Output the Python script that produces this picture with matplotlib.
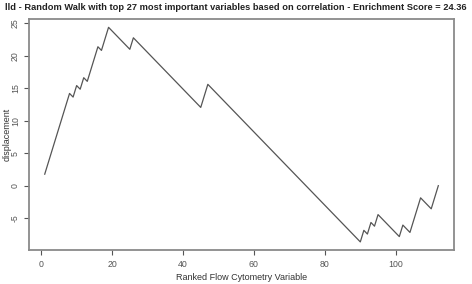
import matplotlib
matplotlib.use("Agg")
import matplotlib.pyplot as plt

# turning points of the random walk
rank = [1, 8, 9, 10, 11, 12, 13, 16, 17, 19, 25, 26, 45, 47, 90, 91, 92,
        93, 94, 95, 101, 102, 104, 107, 110, 112]
displacement = [1.77, 14.19, 13.63, 15.40, 14.84, 16.61, 16.05, 21.37, 20.81,
                24.36, 20.98, 22.75, 12.04, 15.59, -8.65, -6.87, -7.44, -5.66,
                -6.23, -4.45, -7.83, -6.06, -7.19, -1.87, -3.56, 0.0]
x_ticks = [0, 20, 40, 60, 80, 100]
y_ticks = [-5, 0, 5, 10, 15, 20, 25]
title = ("lld - Random Walk with top 27 most important variables based on "
         "correlation - Enrichment Score = 24.36")

plt.rcParams["font.family"] = ["Liberation Sans", "DejaVu Sans"]

fig = plt.figure(figsize=(4.72, 2.84), dpi=100)
ax = fig.add_axes([0.0614, 0.118, 0.9006, 0.816])

ax.plot(rank, displacement, color="#555555", lw=0.9)

ax.set_xlim(-3.44, 116.44)
ax.set_ylim(-9.97, 25.68)
ax.set_xticks(x_ticks)
ax.set_yticks(y_ticks)
ax.set_yticklabels([str(v) for v in y_ticks], rotation=90, va="center")
ax.tick_params(labelsize=6.3, colors="#555555", length=3.5, width=0.8, pad=3)

for s in ax.spines.values():
    s.set_color("#8a8a8a")
    s.set_linewidth(1.3)

ax.set_xlabel("Ranked Flow Cytometry Variable", fontsize=6.5,
              color="#333333", labelpad=3)
ax.set_ylabel("displacement", fontsize=6.5, color="#333333")
ax.yaxis.set_label_coords(-0.042, 0.5)

fig.text(0.5, 0.972, title, ha="center", va="center", fontsize=6.7,
         fontweight="bold", color="#222222")

fig.savefig("out.png", dpi=100)
